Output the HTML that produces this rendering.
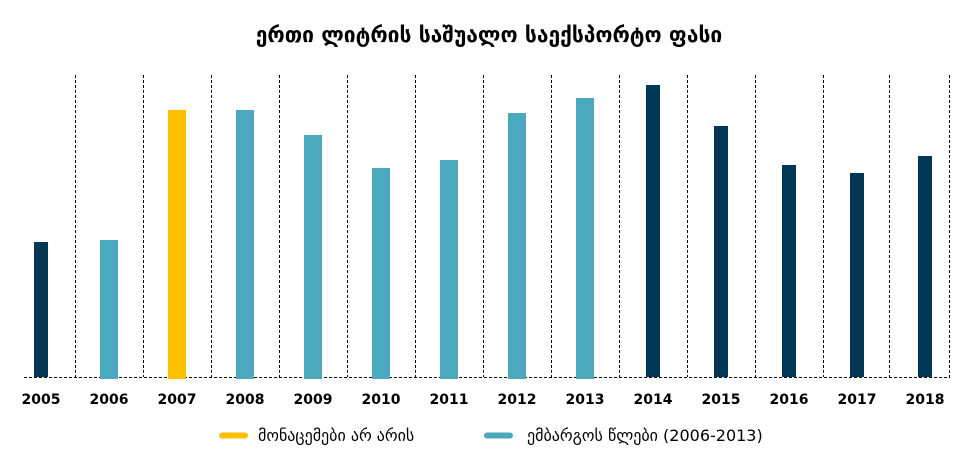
<!DOCTYPE html>
<html><head><meta charset="utf-8"><style>
body{margin:0;background:#fff;}
svg text{font-family:"DejaVu Sans","Liberation Sans",sans-serif;}
</style></head><body>
<svg width="979" height="454" xmlns="http://www.w3.org/2000/svg">
<text x="489" y="42" text-anchor="middle" font-size="21" font-weight="bold" fill="#000">ერთი ლიტრის საშუალო საექსპორტო ფასი</text>
<g stroke="#000" stroke-width="1" stroke-dasharray="3,2">
<line x1="24" y1="377.5" x2="950" y2="377.5"/>
<line x1="75.5" y1="75" x2="75.5" y2="377"/>
<line x1="143.5" y1="75" x2="143.5" y2="377"/>
<line x1="211.5" y1="75" x2="211.5" y2="377"/>
<line x1="279.5" y1="75" x2="279.5" y2="377"/>
<line x1="347.5" y1="75" x2="347.5" y2="377"/>
<line x1="415.5" y1="75" x2="415.5" y2="377"/>
<line x1="483.5" y1="75" x2="483.5" y2="377"/>
<line x1="551.5" y1="75" x2="551.5" y2="377"/>
<line x1="619.5" y1="75" x2="619.5" y2="377"/>
<line x1="687.5" y1="75" x2="687.5" y2="377"/>
<line x1="755.5" y1="75" x2="755.5" y2="377"/>
<line x1="823.5" y1="75" x2="823.5" y2="377"/>
<line x1="889.5" y1="75" x2="889.5" y2="377"/>
<line x1="949.5" y1="75" x2="949.5" y2="377"/>
</g>
<rect x="34" y="242" width="14" height="135" fill="#003656"/>
<rect x="100" y="240" width="18" height="139" fill="#4AA9BC"/>
<rect x="168" y="110" width="18" height="269" fill="#FFC000"/>
<rect x="236" y="110" width="18" height="269" fill="#4AA9BC"/>
<rect x="304" y="135" width="18" height="244" fill="#4AA9BC"/>
<rect x="372" y="168" width="18" height="211" fill="#4AA9BC"/>
<rect x="440" y="160" width="18" height="219" fill="#4AA9BC"/>
<rect x="508" y="113" width="18" height="266" fill="#4AA9BC"/>
<rect x="576" y="98" width="18" height="281" fill="#4AA9BC"/>
<rect x="646" y="85" width="14" height="292" fill="#003656"/>
<rect x="714" y="126" width="14" height="251" fill="#003656"/>
<rect x="782" y="165" width="14" height="212" fill="#003656"/>
<rect x="850" y="173" width="14" height="204" fill="#003656"/>
<rect x="918" y="156" width="14" height="221" fill="#003656"/>
<g font-size="14" font-weight="bold" text-anchor="middle" fill="#000">
<text x="41" y="404">2005</text><text x="109" y="404">2006</text><text x="177" y="404">2007</text>
<text x="245" y="404">2008</text><text x="313" y="404">2009</text><text x="381" y="404">2010</text>
<text x="449" y="404">2011</text><text x="517" y="404">2012</text><text x="585" y="404">2013</text>
<text x="653" y="404">2014</text><text x="721" y="404">2015</text><text x="789" y="404">2016</text>
<text x="857" y="404">2017</text><text x="925" y="404">2018</text>
</g>
<line x1="222" y1="435.5" x2="245" y2="435.5" stroke="#FFC000" stroke-width="6" stroke-linecap="round"/>
<text x="258" y="441" font-size="16" fill="#000">მონაცემები არ არის</text>
<line x1="487" y1="435.5" x2="510" y2="435.5" stroke="#4AA9BC" stroke-width="6" stroke-linecap="round"/>
<text x="527" y="441" font-size="16" fill="#000">ემბარგოს წლები (2006-2013)</text>
</svg>
</body></html>
